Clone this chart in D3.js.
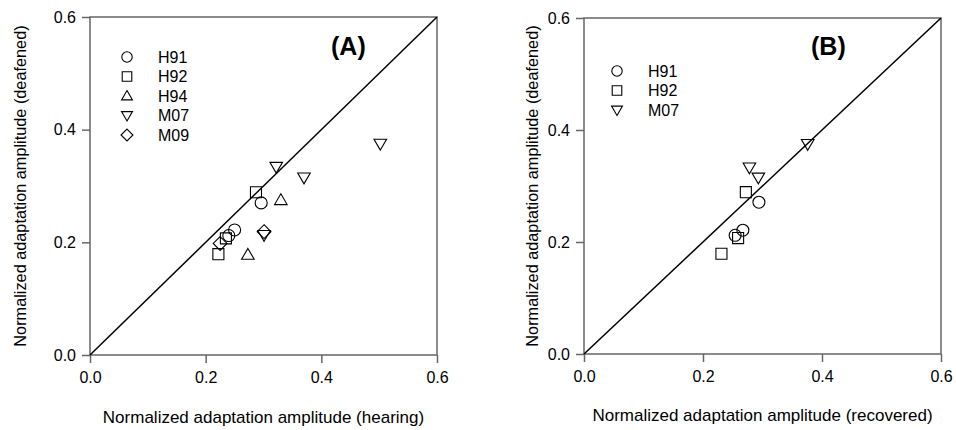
<!DOCTYPE html>
<html>
<head>
<meta charset="utf-8">
<style>
body { margin:0; padding:0; background:#fff; }
svg { display:block; }
text { font-family: "Liberation Sans", Arial, sans-serif; fill:#000; }
.frame { fill:none; stroke:#666; stroke-width:1.5; }
.tick line { stroke:#666; stroke-width:1.5; }
.tick text { font-size:16px; }
.pt { fill:none; stroke:#000; stroke-width:1.1; }
</style>
<script src="https://cdn.jsdelivr.net/npm/d3@7"></script>
</head>
<body>
<svg id="chart" width="956" height="430"></svg>
<script>
// tick values shared by both panels
var ticks = [0.0, 0.2, 0.4, 0.6];

// panel A: deafened vs hearing, [x, y]
var aH91 = [[0.296, 0.270], [0.250, 0.222], [0.240, 0.212]];
var aH92 = [[0.287, 0.289], [0.235, 0.207], [0.222, 0.179]];
var aH94 = [[0.330, 0.275], [0.273, 0.178]];
var aM07 = [[0.322, 0.334], [0.370, 0.315], [0.502, 0.375], [0.301, 0.213]];
var aM09 = [[0.225, 0.198], [0.301, 0.219]];

// panel B: deafened vs recovered
var bH91 = [[0.294, 0.271], [0.267, 0.221], [0.254, 0.212]];
var bH92 = [[0.272, 0.289], [0.259, 0.207], [0.231, 0.179]];
var bM07 = [[0.278, 0.333], [0.293, 0.315], [0.376, 0.375]];

var shapes = { H91: "circle", H92: "square", H94: "tri", M07: "tridown", M09: "diamond" };

function shapePath(kind, r) {
  var p = d3.path();
  if (kind == "circle") {
    p.moveTo(r, 0); p.arc(0, 0, r, 0, 2 * Math.PI);
  } else if (kind == "square") {
    var s = r * 0.92;
    p.rect(-s, -s, 2 * s, 2 * s);
  } else if (kind == "tri") {
    p.moveTo(0, -r * 1.05); p.lineTo(r * 1.05, r * 0.75); p.lineTo(-r * 1.05, r * 0.75); p.closePath();
  } else if (kind == "tridown") {
    p.moveTo(0, r * 1.05); p.lineTo(r * 1.05, -r * 0.75); p.lineTo(-r * 1.05, -r * 0.75); p.closePath();
  } else {
    var d = r * 1.15;
    p.moveTo(0, -d); p.lineTo(d, 0); p.lineTo(0, d); p.lineTo(-d, 0); p.closePath();
  }
  return p.toString();
}

var svg = d3.select("#chart");

function panel(opt) {
  var x = d3.scaleLinear().domain([0, 0.6]).range([opt.x0, opt.x1]);
  var y = d3.scaleLinear().domain([0, 0.6]).range([opt.y1, opt.y0]);
  var g = svg.append("g");

  g.append("rect").attr("class", "frame")
    .attr("x", opt.x0).attr("y", opt.y0)
    .attr("width", opt.x1 - opt.x0).attr("height", opt.y1 - opt.y0);

  var xa = g.append("g").attr("transform", "translate(0," + opt.y1 + ")")
    .call(d3.axisBottom(x).tickValues(ticks).tickFormat(d3.format(".1f")).tickSize(8).tickPadding(9));
  var ya = g.append("g").attr("transform", "translate(" + opt.x0 + ",0)")
    .call(d3.axisLeft(y).tickValues(ticks).tickFormat(d3.format(".1f")).tickSize(8).tickPadding(6));
  xa.select(".domain").remove();
  ya.select(".domain").remove();

  // line of identity
  g.append("line")
    .attr("x1", x(0)).attr("y1", y(0)).attr("x2", x(0.6)).attr("y2", y(0.6))
    .attr("stroke", "#000").attr("stroke-width", 1.5);

  opt.series.forEach(function (s) {
    g.selectAll(null).data(s.data).enter().append("path")
      .attr("class", "pt")
      .attr("d", shapePath(shapes[s.name], 6))
      .attr("transform", function (d) { return "translate(" + x(d[0]) + "," + y(d[1]) + ")"; });
  });

  // legend
  opt.series.forEach(function (s, i) {
    var ly = opt.ly + i * 19.5;
    g.append("path").attr("class", "pt")
      .attr("d", shapePath(shapes[s.name], 5.2))
      .attr("transform", "translate(" + opt.lx + "," + ly + ")");
    g.append("text").attr("x", opt.lx + 31).attr("y", ly + 5.8)
      .style("font-size", "16px").text(s.name);
  });

  g.append("text").attr("x", opt.tx).attr("y", 55)
    .style("font-size", "25px").style("font-weight", "bold").text(opt.tag);

  g.append("text").attr("x", (opt.x0 + opt.x1) / 2).attr("y", opt.xly)
    .attr("text-anchor", "middle").style("font-size", "17px").text(opt.xlabel);
  g.append("text")
    .attr("transform", "translate(" + opt.ylx + "," + (opt.y0 + opt.y1) / 2 + ") rotate(-90)")
    .attr("text-anchor", "middle").style("font-size", "16.3px")
    .text("Normalized adaptation amplitude (deafened)");
}

panel({
  x0: 90, x1: 437, y0: 17, y1: 355,
  lx: 127, ly: 57, tx: 331, tag: "(A)",
  xlabel: "Normalized adaptation amplitude (hearing)", xly: 423, ylx: 26,
  series: [
    { name: "H91", data: aH91 }, { name: "H92", data: aH92 }, { name: "H94", data: aH94 },
    { name: "M07", data: aM07 }, { name: "M09", data: aM09 }
  ]
});

panel({
  x0: 584, x1: 941, y0: 18, y1: 354,
  lx: 617, ly: 71, tx: 811, tag: "(B)",
  xlabel: "Normalized adaptation amplitude (recovered)", xly: 421, ylx: 538,
  series: [
    { name: "H91", data: bH91 }, { name: "H92", data: bH92 }, { name: "M07", data: bM07 }
  ]
});
</script>
</body>
</html>
